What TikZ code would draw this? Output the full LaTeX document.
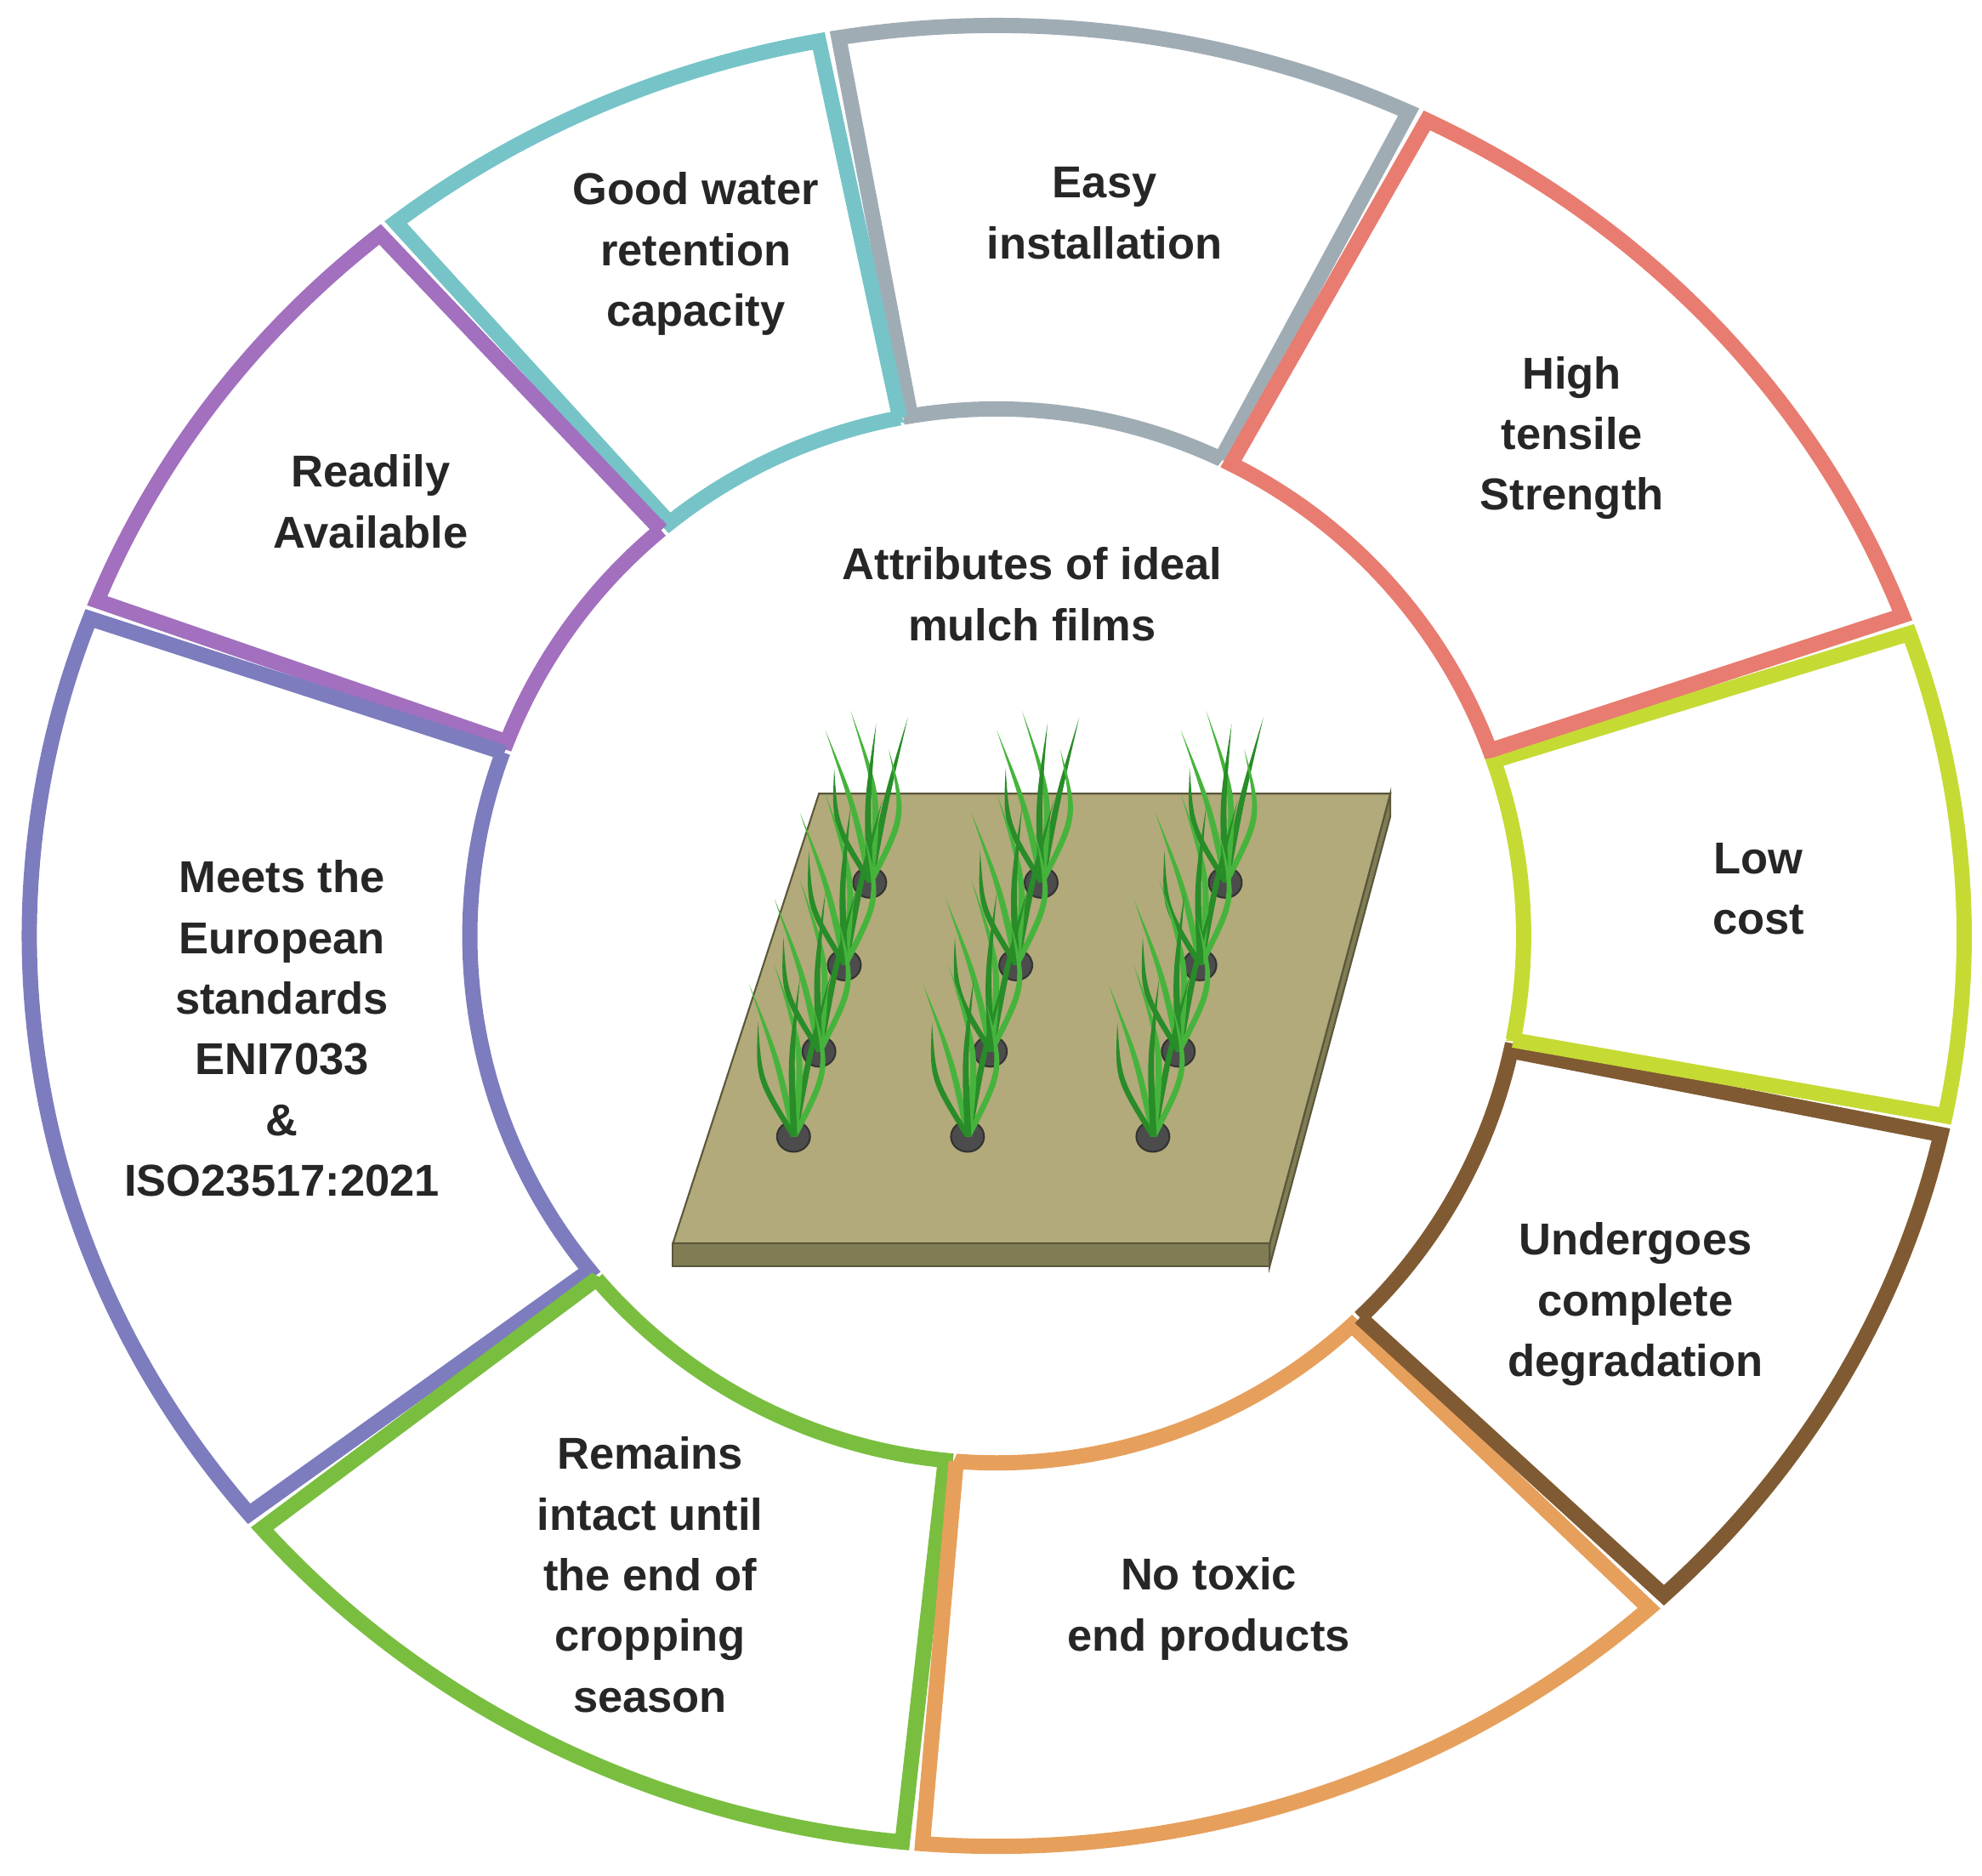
\documentclass[tikz,border=0pt]{standalone}
\usepackage{fontspec}
\setmainfont{Liberation Sans}
\begin{document}
\begin{tikzpicture}
\definecolor{cteal}{RGB}{118,196,200}
\definecolor{cgray}{RGB}{160,172,180}
\definecolor{cred}{RGB}{232,124,112}
\definecolor{cyel}{RGB}{198,218,52}
\definecolor{cbrown}{RGB}{128,90,50}
\definecolor{corange}{RGB}{230,160,92}
\definecolor{cgreen}{RGB}{122,190,64}
\definecolor{cblue}{RGB}{124,124,190}
\definecolor{cpurple}{RGB}{162,112,190}
\definecolor{soil}{RGB}{178,170,122}
\definecolor{soild}{RGB}{128,124,84}
\definecolor{leaf}{RGB}{70,180,60}
\definecolor{leafd}{RGB}{40,140,40}
\tikzset{seg/.style={line width=0.12cm,line join=miter,miter limit=1.5,fill=white},
  lab/.style={font=\bfseries\fontsize{10}{13.6}\selectfont,align=center,text=black!85}}
\useasboundingbox (0,0) rectangle (15.61,14.77);
\def\rx{7.62}\def\ry{7.17}\def\ri{4.15}
\newcommand\seg[3]{\draw[seg,draw=#1] ({\ri*cos(#2)},{\ri*sin(#2)}) -- ({\rx*cos(#2)},{\ry*sin(#2)}) arc[start angle=#2,end angle=#3,x radius=\rx,y radius=\ry] -- ({\ri*cos(#3)},{\ri*sin(#3)}) arc[start angle=#3,end angle=#2,radius=\ri] -- cycle;}
\begin{scope}[shift={(7.85,7.40)}]
\seg{cgray}{64.8}{99.4}
\seg{cteal}{100.6}{128.4}
\seg{cpurple}{129.6}{158.4}
\seg{cblue}{159.6}{219.4}
\seg{cgreen}{220.6}{264.4}
\seg{corange}{265.6}{312.4}
\seg{cbrown}{313.6}{347.4}
\seg{cyel}{348.6}{379.4}
\seg{cred}{20.6}{63.6}
\end{scope}
% board
\draw[soild!70!black,fill=soild,line width=0.4pt] (5.30,4.98) -- (10.0,4.98) -- (10.0,4.80) -- (5.30,4.80) -- cycle;
\draw[soild!70!black,fill=soild,line width=0.4pt] (10.0,4.98) -- (10.95,8.52) -- (10.95,8.34) -- (10.0,4.80) -- cycle;
\draw[soild!70!black,fill=soil,line width=0.4pt] (6.45,8.52) -- (10.95,8.52) -- (10.0,4.98) -- (5.30,4.98) -- cycle;
\foreach \x/\y in {6.85/7.82,8.20/7.82,9.65/7.82,6.65/7.17,8.00/7.17,9.45/7.17,6.45/6.49,7.80/6.49,9.28/6.49,6.25/5.82,7.62/5.82,9.08/5.82}{
 \fill[black!70,draw=black!80] (\x,\y) ellipse (0.13 and 0.12);
 \begin{scope}[shift={(\x,\y)}]
 \foreach \a/\b/\h/\c in {-0.35/-0.15/1.2/leaf,0.3/0.1/1.3/leafd,-0.15/0.05/1.35/leaf,0.15/0.25/1.05/leaf,-0.28/-0.3/0.9/leafd,0.05/-0.05/1.25/leafd}{
  \fill[\c] (-0.02,0) .. controls (\b,{0.5*\h}) .. (\a,\h) .. controls ({\b+0.05},{0.5*\h}) .. (0.03,0) -- cycle;
 }
 \end{scope}
}
\node[lab] (water) at (5.48,12.77) {Good water\\retention\\capacity};
\node[lab] (easy) at (8.70,13.09) {Easy\\installation};
\node[lab] (tensile) at (12.38,11.32) {High\\tensile\\Strength};
\node[lab] (cost) at (13.85,7.77) {Low\\cost};
\node[lab] (degr) at (12.88,4.50) {Undergoes\\complete\\degradation};
\node[lab] (toxic) at (9.52,2.10) {No toxic\\end products};
\node[lab] (intact) at (5.12,2.37) {Remains\\intact until\\the end of\\cropping\\season};
\node[lab] (euro) at (2.22,6.67) {Meets the\\European\\standards\\ENI7033\\\&\\ISO23517:2021};
\node[lab] (ready) at (2.92,10.82) {Readily\\Available};
\node[lab] (title) at (8.13,10.09) {Attributes of ideal\\mulch films};
\end{tikzpicture}
\end{document}
